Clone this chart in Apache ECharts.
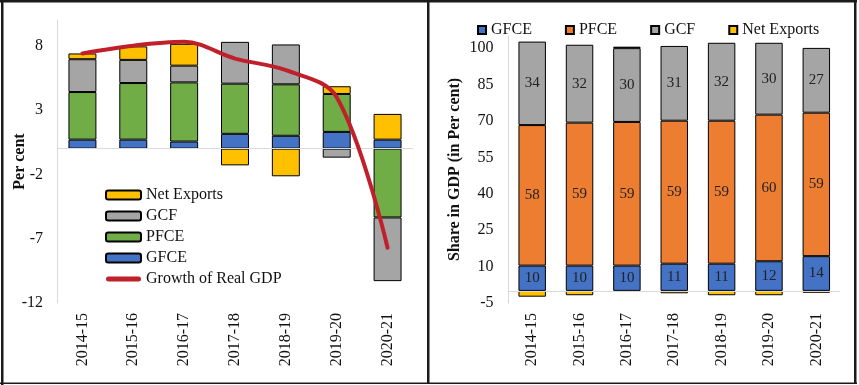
<!DOCTYPE html>
<html>
<head>
<meta charset="utf-8">
<script src="https://cdn.jsdelivr.net/npm/echarts@6/dist/echarts.min.js"></script>
<style>
html,body{margin:0;padding:0;background:#fff;}
#chart{width:859px;height:385px;}
</style>
</head>
<body>
<div id="chart"></div>
<script>
const years = ['2014-15','2015-16','2016-17','2017-18','2018-19','2019-20','2020-21'];

// Left panel: contribution to growth (per cent)
const growthGFCE = [0.7, 0.7, 0.55, 1.15, 1.0, 1.3, 0.7];
const growthPFCE = [3.7, 4.4, 4.6, 3.9, 4.0, 2.95, -5.35];
const growthGCF  = [2.55, 1.8, 1.3, 3.25, 3.1, -0.7, -4.95];
const growthNX   = [0.45, 1.05, 1.7, -1.3, -2.15, 0.6, 2.0];
const realGDP    = [7.4, 8.0, 8.3, 7.0, 6.1, 4.0, -7.7];

// Right panel: share in GDP (per cent)
const shareGFCE = [10.4, 10.4, 10.4, 11.2, 11.2, 12.2, 14.3];
const sharePFCE = [57.9, 58.9, 59.2, 58.9, 58.9, 60.4, 59.1];
const shareGCF  = [34.4, 32.1, 30.4, 30.8, 32.1, 29.6, 26.7];
const shareNX   = [-2.4, -1.8, 0.6, -1.0, -1.8, -1.8, -0.8];

const leftTicks = { min: -12, max: 10, interval: 5 };
const rightTicks = { min: -5, max: 105, interval: 15 };

const C = { gfce: '#4472C4', pfceL: '#70AD47', pfceR: '#ED7D31', gcf: '#A5A5A5', nx: '#FFC000', gdp: '#C0202B' };
const FONT = '"Liberation Serif", "Times New Roman", serif';

const chart = echarts.init(document.getElementById('chart'), null, { renderer: 'canvas' });

function bar(name, data, color, gi, stack, bw, label) {
  return {
    name: name, type: 'bar', stack: stack, data: data,
    xAxisIndex: gi, yAxisIndex: gi, barWidth: bw,
    itemStyle: { color: color, borderColor: '#000', borderWidth: 1 },
    label: label ? {
      show: true, position: 'inside', fontFamily: FONT, fontSize: 15, color: '#222',
      formatter: p => Math.round(p.value)
    } : { show: false },
    emphasis: { disabled: true },
    animation: false
  };
}

const zeroLine = {
  silent: true, symbol: 'none', label: { show: false },
  lineStyle: { color: '#D9D9D9', width: 1, type: 'solid' },
  data: [{ yAxis: 0 }], animation: false
};
const gfceL = bar('GFCE', growthGFCE, C.gfce, 0, 'L', '55%', false);
gfceL.markLine = zeroLine;
const gfceR = bar('r:GFCE', shareGFCE, C.gfce, 1, 'R', '58%', true);
gfceR.markLine = JSON.parse(JSON.stringify(zeroLine));

const xAxisCommon = (gi) => ({
  type: 'category', data: years, gridIndex: gi, position: 'bottom',
  axisLine: { show: false, onZero: false }, axisTick: { show: false },
  axisLabel: { rotate: 90, fontFamily: FONT, fontSize: 16, color: '#111', margin: 10 }
});

const lineIcon = 'path://M2.5,0 L32.5,0 A2.5,2.5 0 0 1 32.5,5 L2.5,5 A2.5,2.5 0 0 1 2.5,0 Z';

const option = {
  animation: false,
  backgroundColor: '#fff',
  grid: [
    { left: 57, top: 20, width: 356, height: 283, containLabel: false },
    { left: 508.5, top: 36, width: 331.5, height: 267, containLabel: false }
  ],
  xAxis: [xAxisCommon(0), xAxisCommon(1)],
  yAxis: [
    {
      type: 'value', gridIndex: 0, min: leftTicks.min, max: leftTicks.max, interval: leftTicks.interval,
      axisLine: { show: true, lineStyle: { color: '#D9D9D9' } }, axisTick: { show: false }, splitLine: { show: false },
      axisLabel: { fontFamily: FONT, fontSize: 16, color: '#111', margin: 14, showMaxLabel: false },
      name: 'Per cent', nameLocation: 'middle', nameRotate: 90, nameGap: 29, nameMoveOverlap: false,
      nameTextStyle: { fontFamily: FONT, fontSize: 16, fontWeight: 'bold', color: '#111' }
    },
    {
      type: 'value', gridIndex: 1, min: rightTicks.min, max: rightTicks.max, interval: rightTicks.interval,
      axisLine: { show: true, lineStyle: { color: '#D9D9D9' } }, axisTick: { show: false }, splitLine: { show: false },
      axisLabel: { fontFamily: FONT, fontSize: 16, color: '#111', margin: 15, showMaxLabel: false },
      name: 'Share in GDP (in Per cent)', nameLocation: 'middle', nameRotate: 90, nameGap: 46, nameMoveOverlap: false,
      nameTextStyle: { fontFamily: FONT, fontSize: 16, fontWeight: 'bold', color: '#111' }
    }
  ],
  legend: [
    {
      orient: 'vertical', left: 105, top: 187, padding: 0,
      itemWidth: 35, itemHeight: 9, itemGap: 5,
      data: ['Net Exports', 'GCF', 'PFCE', 'GFCE',
        { name: 'Growth of Real GDP', icon: lineIcon, itemStyle: { color: C.gdp, borderWidth: 0 } }],
      textStyle: { fontFamily: FONT, fontSize: 16, color: '#111', lineHeight: 16 },
      selectedMode: false
    },
    {
      orient: 'horizontal', left: 477, top: 22, padding: 0,
      itemWidth: 8, itemHeight: 8, itemGap: 33, icon: 'rect',
      data: ['r:GFCE', 'r:PFCE', 'r:GCF', 'r:NX'],
      formatter: n => ({ 'r:GFCE': 'GFCE', 'r:PFCE': 'PFCE', 'r:GCF': 'GCF', 'r:NX': 'Net Exports' })[n],
      textStyle: { fontFamily: FONT, fontSize: 16, color: '#111', lineHeight: 16 },
      selectedMode: false
    }
  ],
  series: [
    gfceL,
    bar('PFCE', growthPFCE, C.pfceL, 0, 'L', '55%', false),
    bar('GCF', growthGCF, C.gcf, 0, 'L', '55%', false),
    bar('Net Exports', growthNX, C.nx, 0, 'L', '55%', false),
    {
      name: 'Growth of Real GDP', type: 'line', data: realGDP, xAxisIndex: 0, yAxisIndex: 0,
      smooth: 0.35, symbol: 'none', showSymbol: false, z: 5,
      lineStyle: { color: C.gdp, width: 4, cap: 'round' },
      itemStyle: { color: C.gdp },
      emphasis: { disabled: true }
    },
    gfceR,
    bar('r:PFCE', sharePFCE, C.pfceR, 1, 'R', '58%', true),
    bar('r:GCF', shareGCF, C.gcf, 1, 'R', '58%', true),
    bar('r:NX', shareNX, C.nx, 1, 'R', '58%', false)
  ],
  graphic: [
    { type: 'rect', shape: { x: 0, y: 0, width: 857, height: 2.5 }, style: { fill: '#1a1a1a' }, silent: true },
    { type: 'rect', shape: { x: 1, y: 0, width: 2.5, height: 385 }, style: { fill: '#1a1a1a' }, silent: true },
    { type: 'rect', shape: { x: 0, y: 382.5, width: 857, height: 1.5 }, style: { fill: '#1a1a1a' }, silent: true },
    { type: 'rect', shape: { x: 427, y: 0, width: 2.5, height: 384 }, style: { fill: '#1a1a1a' }, silent: true },
    { type: 'rect', shape: { x: 854, y: 0, width: 2.5, height: 384 }, style: { fill: '#1a1a1a' }, silent: true }
  ]
};
chart.setOption(option);
</script>
</body>
</html>
